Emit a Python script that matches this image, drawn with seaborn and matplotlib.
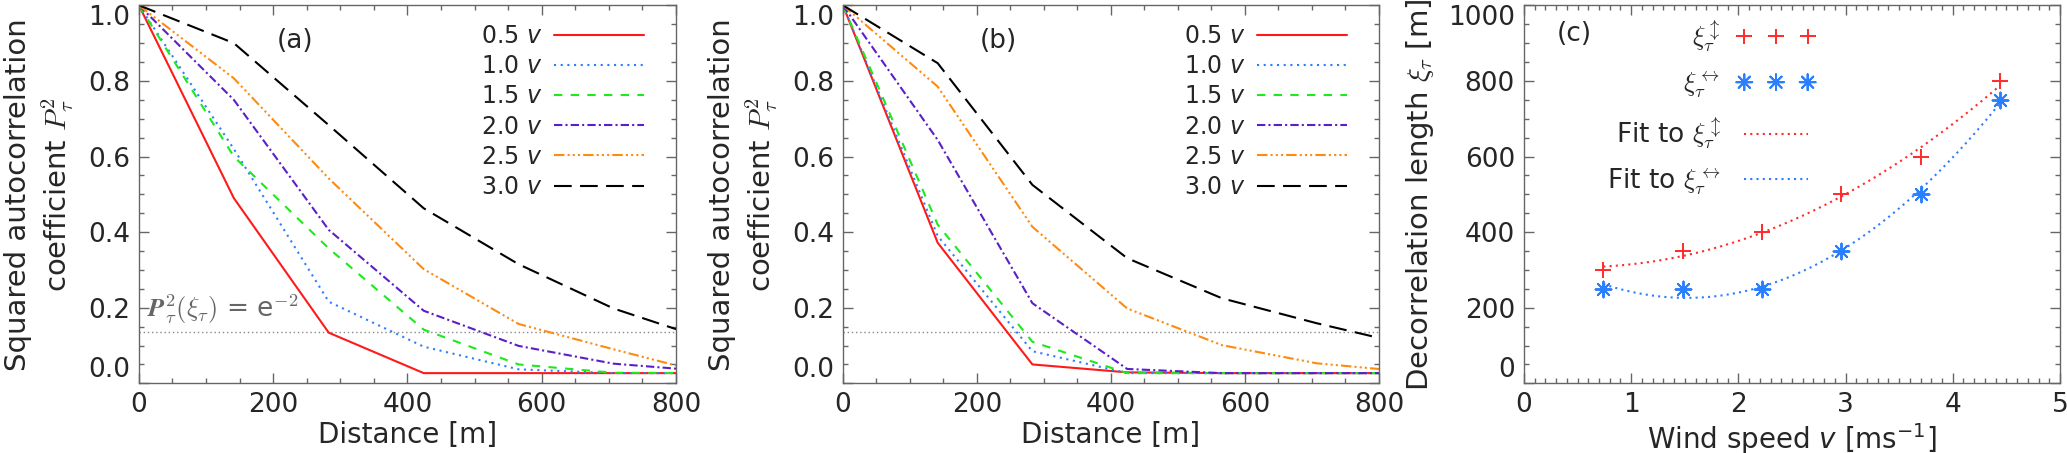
import numpy as np
import pandas as pd
import matplotlib
matplotlib.use("Agg")
import matplotlib.pyplot as plt
from matplotlib.ticker import MultipleLocator
import seaborn as sns

# lag distances [m]
dist = [0, 141.4, 282.8, 424.3, 565.7, 707.1, 848.5]
speed_labels = ['0.5', '1.0', '1.5', '2.0', '2.5', '3.0']

# panel (a): squared autocorrelation for each wind speed multiple
a_05 = [1.0, 0.49, 0.134, 0.027, 0.027, 0.027, 0.027]
a_10 = [1.0, 0.62, 0.216, 0.097, 0.037, 0.027, 0.027]
a_15 = [1.0, 0.60, 0.357, 0.142, 0.050, 0.028, 0.027]
a_20 = [1.0, 0.75, 0.406, 0.192, 0.099, 0.052, 0.032]
a_25 = [1.0, 0.807, 0.542, 0.302, 0.157, 0.090, 0.025]
a_30 = [1.0, 0.90, 0.683, 0.463, 0.315, 0.198, 0.115]

# panel (b)
b_05 = [1.0, 0.372, 0.050, 0.029, 0.027, 0.027, 0.027]
b_10 = [1.0, 0.390, 0.085, 0.027, 0.027, 0.027, 0.027]
b_15 = [1.0, 0.420, 0.110, 0.027, 0.027, 0.027, 0.027]
b_20 = [1.0, 0.644, 0.212, 0.038, 0.027, 0.027, 0.027]
b_25 = [1.0, 0.785, 0.414, 0.198, 0.101, 0.053, 0.030]
b_30 = [1.0, 0.847, 0.525, 0.331, 0.225, 0.159, 0.100]

# panel (c): decorrelation length vs wind speed
wind = [0.74, 1.48, 2.22, 2.96, 3.70, 4.44]
xi_vert = [300, 350, 400, 500, 600, 800]
xi_horiz = [250, 250, 250, 350, 500, 750]

threshold = np.exp(-2)

colors = ['#ff1a1a', '#2a7fff', '#1ee81e', '#5b1fc8', '#ff8a10', '#000000']
dash_styles = ['', (1.0, 2.2), (4.0, 4.0), (4.0, 1.5, 1.0, 1.5),
               (5.0, 1.5, 1.0, 1.5, 1.0, 1.5, 1.0, 1.5), (8.5, 4.0)]

sns.set_theme(style='ticks')
plt.rcParams['font.family'] = ['DejaVu Sans']
plt.rcParams['mathtext.fontset'] = 'cm'

spine_col = '#666666'


def style_axes(ax, xmaj, xmin, ymaj, ymin):
    ax.xaxis.set_major_locator(MultipleLocator(xmaj))
    ax.xaxis.set_minor_locator(MultipleLocator(xmin))
    ax.yaxis.set_major_locator(MultipleLocator(ymaj))
    ax.yaxis.set_minor_locator(MultipleLocator(ymin))
    ax.tick_params(which='both', direction='in', top=True, right=True,
                   color=spine_col, width=1.0, labelsize=19, pad=6.5)
    ax.tick_params(which='major', length=7)
    ax.tick_params(which='minor', length=3.5)
    for s in ax.spines.values():
        s.set_color(spine_col)
        s.set_linewidth(1.0)


def pin_end_labels(ax):
    # keep the lowest / highest y labels inside the frame like the original
    lo, hi = ax.get_ylim()
    for tick in ax.yaxis.get_major_ticks():
        y = tick.get_loc()
        if np.isclose(y, lo):
            tick.label1.set_va('bottom')
        elif np.isclose(y, hi):
            tick.label1.set_va('top')


def corr_panel(ax, series, tag, note):
    rows = []
    for lab, vals in zip(speed_labels, series):
        for d, v in zip(dist, vals):
            rows.append({'dist': d, 'p2': v, 'speed': lab})
    df = pd.DataFrame(rows)
    ax.axhline(threshold, color='#888888', lw=1.0, ls=(0, (1, 2)), zorder=1)
    sns.lineplot(data=df, x='dist', y='p2', hue='speed', style='speed',
                 palette=dict(zip(speed_labels, colors)),
                 dashes=dict(zip(speed_labels, dash_styles)),
                 linewidth=1.5, legend=False, ax=ax, sort=False)
    handles = ax.get_lines()[1:7]
    leg = ax.legend(handles, [f'{s} $v$' for s in speed_labels],
                    loc='upper right', bbox_to_anchor=(0.94, 0.95),
                    frameon=False, markerfirst=False, handlelength=3.8,
                    labelspacing=0.26, handletextpad=0.5, fontsize=17,
                    borderpad=0, borderaxespad=0)
    for t in leg.get_texts():
        t.set_math_fontfamily('dejavusans')
    ax.set_xlim(0, 800)
    ax.set_ylim(0, 1.0)
    style_axes(ax, 200, 50, 0.2, 0.05)
    ax.set_xlabel('Distance [m]', fontsize=20, labelpad=2)
    ax.set_ylabel('Squared autocorrelation\ncoefficient $P_\\tau^2$',
                  fontsize=21, linespacing=1.25)
    ax.yaxis.set_label_coords(-0.118, 0.5)
    ax.text(0.29, 0.905, tag, transform=ax.transAxes, fontsize=19,
            ha='center', va='center')
    if note:
        ax.text(0.015, 0.195, r'$\mathbfit{P}^2_{\tau}(\xi_{\tau})$ = e$^{\mathrm{-}2}$',
                transform=ax.get_yaxis_transform(), fontsize=19,
                color='#666666', ha='left', va='center')


fig = plt.figure(figsize=(20.67, 4.53), dpi=100)
bottom, height = 0.1538, 0.8345
ax_a = fig.add_axes([0.0672, bottom, 0.2598, height])
ax_b = fig.add_axes([0.4078, bottom, 0.2593, height])
ax_c = fig.add_axes([0.7373, bottom, 0.2593, height])

corr_panel(ax_a, [a_05, a_10, a_15, a_20, a_25, a_30], '(a)', True)
corr_panel(ax_b, [b_05, b_10, b_15, b_20, b_25, b_30], '(b)', False)

# panel (c)
red_c = '#ff2a2a'
blue_c = '#2a7fff'
grid = np.linspace(wind[0], wind[-1], 200)
fit_v = np.polyval(np.polyfit(wind, xi_vert, 2), grid)
fit_h = np.polyval(np.polyfit(wind, xi_horiz, 2), grid)

sns.lineplot(x=grid, y=fit_v, color=red_c, lw=1.5, ax=ax_c,
             linestyle=(0, (1.0, 2.0)), label='fitv')
sns.lineplot(x=grid, y=fit_h, color=blue_c, lw=1.5, ax=ax_c,
             linestyle=(0, (1.0, 2.0)), label='fith')
sns.scatterplot(x=wind, y=xi_vert, marker='+', s=130, color=red_c,
                linewidth=1.4, ax=ax_c, label='pv')
sns.scatterplot(x=wind, y=xi_horiz, marker=(8, 2, 0), s=130, color=blue_c,
                linewidth=1.4, ax=ax_c, label='ph')

h, l = ax_c.get_legend_handles_labels()
order = [l.index('pv'), l.index('ph'), l.index('fitv'), l.index('fith')]
leg_c = ax_c.legend([h[i] for i in order],
                    [r'$\xi_\tau^{\updownarrow}$', r'$\xi_\tau^{\leftrightarrow}$',
                     r'Fit to $\xi_\tau^{\updownarrow}$',
                     r'Fit to $\xi_\tau^{\leftrightarrow}$'],
                    loc='upper left', bbox_to_anchor=(0.155, 0.965),
                    frameon=False, markerfirst=False, handlelength=3.0,
                    scatterpoints=3, scatteryoffsets=[0.5], numpoints=3,
                    labelspacing=0.55, handletextpad=0.6, fontsize=19,
                    borderpad=0, borderaxespad=0)
for t in leg_c.get_texts():
    t.set_ha('right')
leg_c._legend_box.align = 'right'

ax_c.set_xlim(0, 5)
ax_c.set_ylim(0, 1000)
style_axes(ax_c, 1, 0.1, 200, 50)
xl = ax_c.set_xlabel(r'Wind speed $v$ [ms$^{\mathrm{-}1}$]', fontsize=20, labelpad=2)
xl.set_math_fontfamily('dejavusans')
ax_c.set_ylabel(r'Decorrelation length $\xi_\tau$ [m]', fontsize=21)
ax_c.yaxis.set_label_coords(-0.165, 0.5)
ax_c.text(0.093, 0.925, '(c)', transform=ax_c.transAxes, fontsize=19,
          ha='center', va='center')

fig.canvas.draw()
for ax in (ax_a, ax_b, ax_c):
    pin_end_labels(ax)

fig.savefig('out.png', dpi=100)
